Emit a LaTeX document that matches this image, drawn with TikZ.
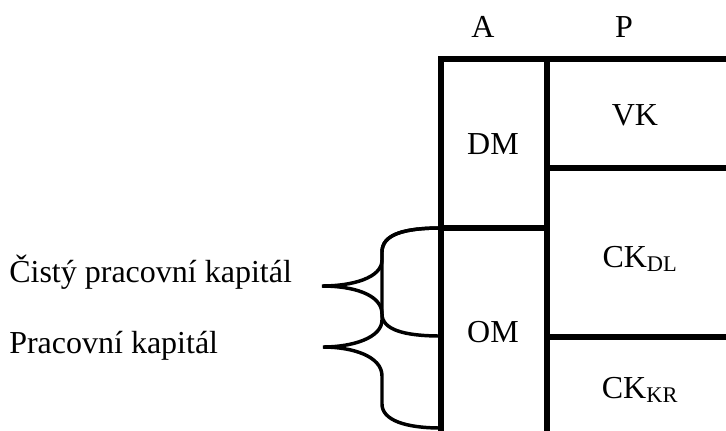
\documentclass[tikz,border=0pt]{standalone}
\usepackage{fontspec}
\setmainfont{Liberation Serif}
\usepackage{tikz}
\usetikzlibrary{positioning}

\begin{document}
\begin{tikzpicture}[
  x=0.75pt,y=-0.75pt,
  lbl/.style={anchor=base,inner sep=0pt,font=\fontsize{24}{28}\selectfont},
  side/.style={anchor=base west,inner sep=0pt,font=\fontsize{24}{28}\selectfont},
  rule/.style={line width=4pt},
  brace/.style={line width=2.6pt,line cap=round}
]
  \useasboundingbox (0,0) rectangle (726,430);
  % table
  \coordinate (tl) at (441,59);
  \coordinate (tm) at (547,59);
  \draw[rule] (441,432) -- (tl) -- (730,59);
  \draw[rule] (tm) -- (547,432);
  \draw[rule] (547,168) -- (730,168);
  \draw[rule] (441,228) -- (547,228);
  \draw[rule] (547,337) -- (730,337);
  % headings and cells
  \node[lbl] (a)    at (483,37)  {A};
  \node[lbl] (p)    at (624,37)  {P};
  \node[lbl] (vk)   at (635,125) {VK};
  \node[lbl] (dm)   at (493,154) {DM};
  \node[lbl] (ckdl) at (640,267) {CK\textsubscript{DL}};
  \node[lbl] (om)   at (493,342) {OM};
  \node[lbl] (ckkr) at (640,398) {CK\textsubscript{KR}};
  % braces
  \coordinate (b0) at (441,228);
  \coordinate (b1) at (441,336);
  \coordinate (b2) at (441,428);
  \coordinate (t1) at (322,286);
  \coordinate (t2) at (323,347);
  \draw[brace] (b0) .. controls (405,228) and (382,234) .. (382,252) -- (382,260)
    .. controls (382,278) and (352,286) .. (t1)
    .. controls (352,286) and (382,294) .. (382,314)
    .. controls (382,330) and (405,336) .. (b1);
  \draw[brace] (b0) .. controls (405,228) and (382,234) .. (382,252) -- (382,320)
    .. controls (382,338) and (352,347) .. (t2)
    .. controls (352,347) and (382,356) .. (382,376) -- (382,404)
    .. controls (382,420) and (405,428) .. (b2);
  \node[side] (cpk) at (9,282) {Čistý pracovní kapitál};
  \node[side] (pk)  at (9,353) {Pracovní kapitál};
\end{tikzpicture}
\end{document}
